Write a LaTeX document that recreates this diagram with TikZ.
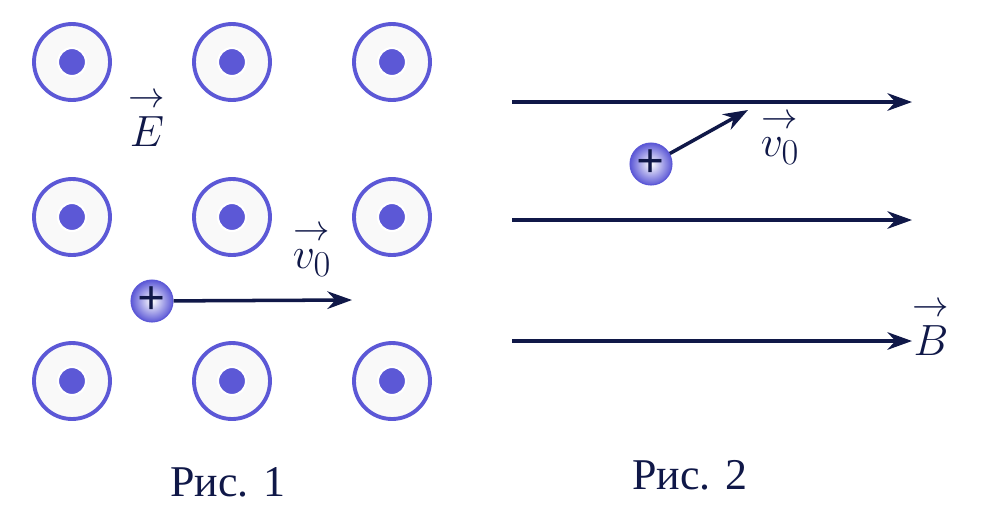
\documentclass[tikz,border=0pt]{standalone}
\usepackage{amsmath}
\usepackage{fontspec}
\setmainfont{Liberation Serif}
\usetikzlibrary{arrows.meta}
\definecolor{ringblue}{RGB}{92,88,214}
\definecolor{navy}{RGB}{16,24,72}
\newcommand{\vecarrow}[1]{\overset{\rightarrow}{#1}}
\begin{document}
\begin{tikzpicture}[x=0.02cm, y=-0.02cm,
	field/.style={draw=ringblue, line width=2.2pt, fill=gray!5, circle, minimum size=76*0.02cm, inner sep=0pt},
	dot/.style={fill=ringblue, draw=white, line width=1.2pt, circle, minimum size=28*0.02cm, inner sep=0pt},
	charge/.style={circle, draw=ringblue, line width=0.6pt, inner color=white, outer color=ringblue, minimum size=42*0.02cm, inner sep=0pt, font=\fontsize{28}{28}\selectfont\bfseries, text=navy},
	line/.style={draw=navy, line width=2pt, -{Stealth[length=14pt, width=10pt]}},
	lbl/.style={font=\fontsize{28}{32}\selectfont, text=navy},
	caption/.style={font=\fontsize{25}{30}\selectfont, text=navy}]
	\useasboundingbox (0,0) rectangle (987,525);
	% figure 1
	\foreach \i/\x in {1/72,2/232,3/392}
		\foreach \j/\y in {1/62,2/217,3/381} {
			\node (f\i\j) [field] at (\x,\y) {};
			\node [dot] at (f\i\j) {};
		}
	\node (E) [lbl] at (147,118) {$\vecarrow{E}$};
	\node (q1) [charge] at (152,301) {+};
	\coordinate (v1) at (352,300);
	\draw [line] (q1) -- (v1);
	\node (vlabel1) [lbl] at (312,250) {$\vecarrow{v_0}$};
	\node (cap1) [caption] at (228,482) {Рис. 1};
	% figure 2
	\foreach \k/\y in {1/102,2/220,3/341} {
		\coordinate (a\k) at (512,\y);
		\coordinate (b\k) at (912,\y);
		\draw [line] (a\k) -- (b\k);
	}
	\node (B) [lbl] at (931,327) {$\vecarrow{B}$};
	\node (q2) [charge] at (651,164) {+};
	\coordinate (v2) at (748,110);
	\draw [line] (q2) -- (v2);
	\node (vlabel2) [lbl] at (780,138) {$\vecarrow{v_0}$};
	\node (cap2) [caption] at (690,475) {Рис. 2};
\end{tikzpicture}
\end{document}
